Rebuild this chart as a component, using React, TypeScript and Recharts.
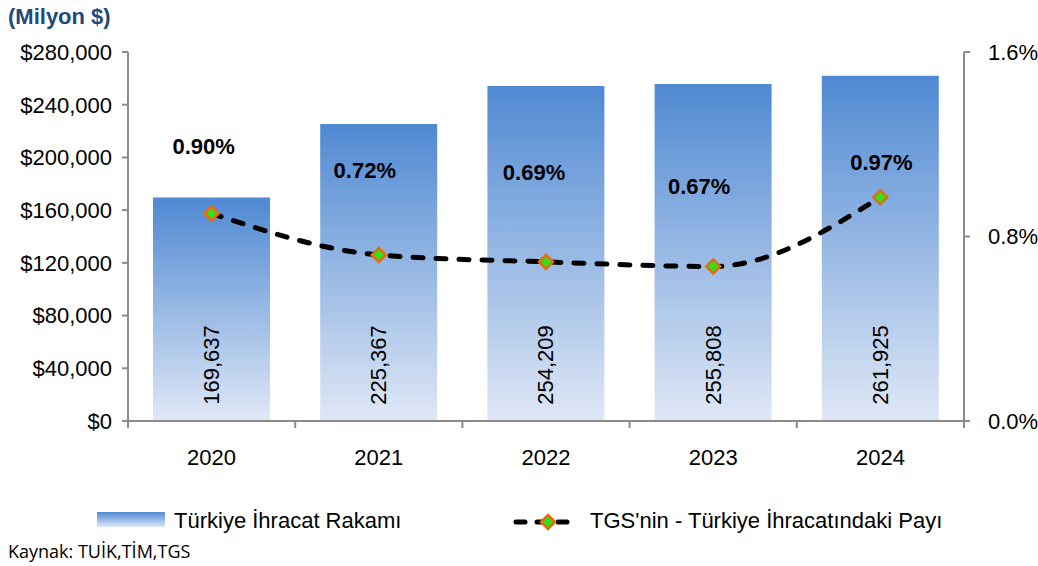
import { ComposedChart, Bar, Line, XAxis, YAxis, LabelList } from 'recharts';

const years = ['2020', '2021', '2022', '2023', '2024'];
const exports = [169637, 225367, 254209, 255808, 261925];
const tgsShare = [0.9, 0.72, 0.69, 0.67, 0.97];
const leftTicks = [0, 40000, 80000, 120000, 160000, 200000, 240000, 280000];
const rightTicks = [0, 0.8, 1.6];

// manual nudges for the share labels (Excel placed them by hand)
const shareLabelNudge = [
  [-8, -67],
  [-14, -84],
  [-12, -89],
  [-14, -80],
  [1, -35],
];

const data = years.map((y, i) => ({ year: y, exports: exports[i], share: tgsShare[i] }));

const FONT = '"Liberation Sans", Arial, sans-serif';
const AXIS = '#8c8c8c';
const HALF_BAND = (964 - 128) / 5 / 2;

function Diamond({ cx, cy, r = 7 }: { cx: number; cy: number; r?: number }) {
  return (
    <polygon
      points={`${cx},${cy - r} ${cx + r},${cy} ${cx},${cy + r} ${cx - r},${cy}`}
      fill="#33e01a"
      stroke="#e46c0a"
      strokeWidth={2.5}
    />
  );
}

function YearTick(props: any) {
  const { x, y, payload, index } = props;
  return (
    <g>
      <line x1={x - HALF_BAND} y1={y} x2={x - HALF_BAND} y2={y + 7} stroke={AXIS} strokeWidth={2} />
      {index === years.length - 1 && (
        <line x1={x + HALF_BAND} y1={y} x2={x + HALF_BAND} y2={y + 7} stroke={AXIS} strokeWidth={2} />
      )}
      <text x={x} y={y + 36} textAnchor="middle" dominantBaseline="central" fontSize={22} fontFamily={FONT} fill="#000">
        {payload.value}
      </text>
    </g>
  );
}

function BarValue(props: any) {
  const { x, y, width, height, value } = props;
  const cx = x + width / 2;
  const cy = y + height - 56;
  return (
    <text
      x={cx}
      y={cy}
      transform={`rotate(-90 ${cx} ${cy})`}
      textAnchor="middle"
      dominantBaseline="central"
      fontSize={22}
      fontFamily={FONT}
      fill="#000"
    >
      {value.toLocaleString('en-US')}
    </text>
  );
}

function ShareValue(props: any) {
  const { x, y, value, index } = props;
  const [dx, dy] = shareLabelNudge[index] || [0, -40];
  return (
    <text
      x={x + dx}
      y={y + dy}
      textAnchor="middle"
      dominantBaseline="central"
      fontSize={22}
      fontWeight="bold"
      fontFamily={FONT}
      fill="#000"
    >
      {value.toFixed(2)}%
    </text>
  );
}

export default function App() {
  return (
    <div style={{ position: 'absolute', left: 0, top: 0, width: 1038, height: 566, background: '#fff', fontFamily: FONT }}>
      <ComposedChart
        width={1038}
        height={566}
        data={data}
        margin={{ top: 52, right: 0, bottom: 0, left: 0 }}
        barCategoryGap={0}
      >
        <defs>
          <linearGradient id="barFill" x1="0" y1="0" x2="0" y2="1">
            <stop offset="0%" stopColor="#4f89d2" />
            <stop offset="100%" stopColor="#e0e8f6" />
          </linearGradient>
        </defs>
        <XAxis
          dataKey="year"
          height={145}
          tickSize={0}
          tickMargin={0}
          tick={<YearTick />}
          axisLine={{ stroke: AXIS, strokeWidth: 2 }}
          tickLine={false}
        />
        <YAxis
          yAxisId="left"
          width={128}
          domain={[0, 280000]}
          ticks={leftTicks}
          tickFormatter={(v: number) => '$' + v.toLocaleString('en-US')}
          tick={{ fontSize: 22, fontFamily: FONT, fill: '#000' }}
          tickSize={6}
          tickMargin={10}
          axisLine={{ stroke: AXIS, strokeWidth: 2 }}
          tickLine={{ stroke: AXIS, strokeWidth: 2 }}
          interval={0}
        />
        <YAxis
          yAxisId="right"
          orientation="right"
          width={74}
          domain={[0, 1.6]}
          ticks={rightTicks}
          tickFormatter={(v: number) => v.toFixed(1) + '%'}
          tick={{ fontSize: 22, fontFamily: FONT, fill: '#000', textAnchor: 'start' }}
          tickSize={6}
          tickMargin={18}
          axisLine={{ stroke: AXIS, strokeWidth: 2 }}
          tickLine={{ stroke: AXIS, strokeWidth: 2 }}
          interval={0}
        />
        <Bar yAxisId="left" dataKey="exports" fill="url(#barFill)" barSize={117} isAnimationActive={false}>
          <LabelList dataKey="exports" content={<BarValue />} />
        </Bar>
        <Line
          yAxisId="right"
          dataKey="share"
          type="monotone"
          stroke="#000"
          strokeWidth={5}
          strokeDasharray="10 13"
          strokeLinecap="round"
          dot={(p: any) => <Diamond key={p.index} cx={p.cx} cy={p.cy} />}
          activeDot={false}
          isAnimationActive={false}
        >
          <LabelList dataKey="share" content={<ShareValue />} />
        </Line>
      </ComposedChart>

      <div style={{ position: 'absolute', left: 8, top: 3, fontSize: 22, fontWeight: 'bold', color: '#1f497d', lineHeight: '28px' }}>
        (Milyon $)
      </div>

      <svg width={1038} height={60} style={{ position: 'absolute', left: 0, top: 495 }}>
        <defs>
          <linearGradient id="legFill" x1="0" y1="0" x2="0" y2="1">
            <stop offset="0%" stopColor="#4f89d2" />
            <stop offset="100%" stopColor="#e0e8f6" />
          </linearGradient>
        </defs>
        <rect x={97} y={17} width={68} height={15} fill="url(#legFill)" />
        <text x={174} y={25} dominantBaseline="central" fontSize={22} fontFamily={FONT} fill="#000">
          Türkiye İhracat Rakamı
        </text>
        <line x1={516} y1={27} x2={572} y2={27} stroke="#000" strokeWidth={5} strokeDasharray="9 12" strokeLinecap="round" />
        <Diamond cx={548} cy={27} r={7} />
        <text x={590} y={25} dominantBaseline="central" fontSize={22} fontFamily={FONT} fill="#000">
          TGS'nin - Türkiye İhracatındaki Payı
        </text>
      </svg>

      <div style={{ position: 'absolute', left: 8, top: 539, fontSize: 18, fontFamily: '"Open Sans", sans-serif', color: '#000', lineHeight: '24px' }}>
        Kaynak: TUİK,TİM,TGS
      </div>
    </div>
  );
}
